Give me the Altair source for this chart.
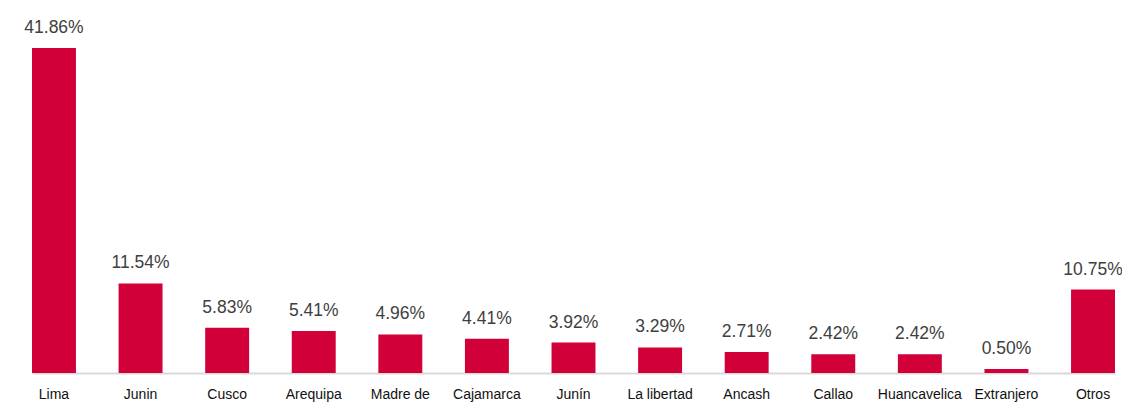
import altair as alt
import pandas as pd

categories = ["Lima", "Junin", "Cusco", "Arequipa", "Madre de Dios", "Cajamarca",
              "Junín", "La libertad", "Ancash", "Callao", "Huancavelica", "Extranjero", "Otros"]
values = [41.86, 11.54, 5.83, 5.41, 4.96, 4.41, 3.92, 3.29, 2.71, 2.42, 2.42, 0.50, 10.75]
labels = ["41.86%", "11.54%", "5.83%", "5.41%", "4.96%", "4.41%", "3.92%", "3.29%",
          "2.71%", "2.42%", "2.42%", "0.50%", "10.75%"]

df = pd.DataFrame({"cat": categories, "val": values, "lab": labels})

FONT = "Liberation Sans"

x = alt.X("cat:N", sort=categories,
          scale=alt.Scale(range=[22, 1105], paddingInner=0.4925, paddingOuter=0),
          axis=alt.Axis(title=None, labelAngle=0, ticks=False, labelPadding=14,
                        labelFont=FONT, labelFontSize=14, labelColor="#111111",
                        domainColor="#D9D9D9", domainWidth=2, labelLineHeight=19,
                        labelExpr="datum.label == 'Madre de Dios' ? ['Madre de', 'Dios'] : datum.label"))
y = alt.Y("val:Q", scale=alt.Scale(domain=[0, 47]), axis=None)

bars = alt.Chart(df).mark_bar(color="#D20039").encode(x=x, y=y)
text = alt.Chart(df).mark_text(dy=-15, baseline="alphabetic", font=FONT,
                               fontSize=17.5, color="#404040").encode(x=x, y=y, text="lab:N")

chart = (bars + text).properties(
    width=1112, height=365,
    autosize=alt.AutoSizeParams(type="none"),
    padding={"left": 2, "top": 0, "right": 0, "bottom": 30},
).configure_view(stroke=None)

chart.save("out.html", embed_options={"renderer": "svg", "actions": False})
